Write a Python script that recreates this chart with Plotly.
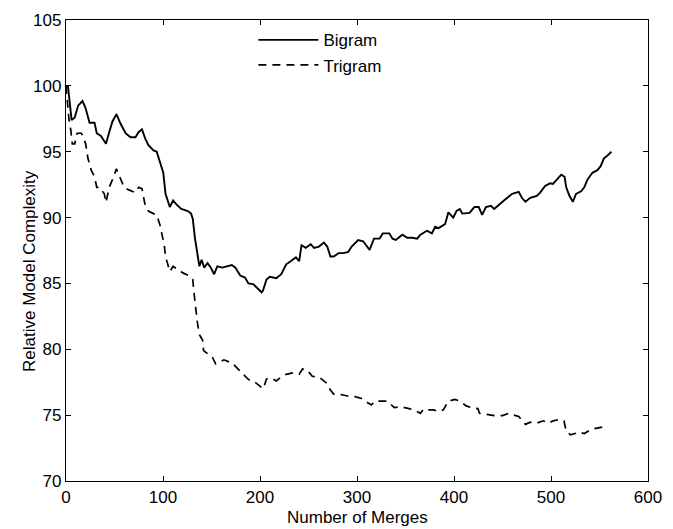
import plotly.graph_objects as go

bigram_x = [0,2,5.8,9,12.5,17,20,24.3,29.4,31.7,36,41.2,44.6,47.9,52,56.4,61.5,66.6,71.6,75,
            78.3,81.7,85,90.2,93.5,97,100.3,102.6,107,110.4,113.8,118.8,125.6,129,130.7,133,135,137.5,139.8,142.5,
            145.9,149.3,152.7,156,161,166,171,174.6,179.6,184.6,188,193,196.5,201.6,203,206.7,210,216.8,221.9,227,
            232,237,240.4,242.8,247.2,252.3,255.7,260.8,265.9,269.3,272.6,276,281,286,291,294.5,301.2,306.3,313,317.5,
            323.2,326.6,333.3,336.6,340,346.8,351.9,357,362,365.4,372.2,377.2,380.6,384,390.8,394.2,399.2,402.6,406,408.6,
            416,421,425.5,429,432.9,438,441.4,446.4,451.5,456.6,460,466.7,470,473.6,478.6,485.4,488.8,493.9,499,502,
            507.3,510.6,514,515.7,519,522.5,525.8,531,534.3,537.7,542.7,547.8,551.2,554.6,558,562.3]
bigram_y = [100,100,97.4,97.6,98.5,98.85,98.35,97.2,97.2,96.4,96.2,95.6,96.5,97.3,97.85,97.1,96.4,96.1,96.1,96.5,
            96.7,96.0,95.5,95.1,95.0,94.25,93.4,91.8,90.8,91.3,91.0,90.65,90.5,90.3,89.9,88.4,87.4,86.3,86.8,86.2,
            86.55,86.2,85.7,86.3,86.2,86.3,86.4,86.2,85.6,85.45,85.0,84.95,84.7,84.33,84.45,85.3,85.5,85.4,85.7,86.45,
            86.7,86.98,86.7,87.9,87.7,87.98,87.7,87.8,88.1,87.8,87.05,87.05,87.3,87.3,87.4,87.8,88.3,88.2,87.55,88.4,
            88.4,88.8,88.8,88.4,88.3,88.7,88.47,88.47,88.4,88.7,89.0,88.8,89.3,89.2,89.5,90.4,90.0,90.5,90.65,90.3,
            90.35,90.8,90.8,90.2,90.8,90.9,90.65,91.0,91.3,91.6,91.8,91.95,91.5,91.2,91.5,91.65,91.9,92.4,92.6,92.55,
            93.0,93.26,93.1,92.3,91.65,91.2,91.8,92.0,92.3,92.9,93.4,93.6,93.9,94.5,94.7,95.0]

trigram_x = [0,3,5,6.5,9,11.5,15.9,20.3,22.6,26,29.4,31.7,34.4,39.5,41.2,44.6,48,52,55.4,59.8,
             64.8,71.6,75,78.3,81.7,85,90.2,93.5,97,99.3,101.3,102.6,107,110.4,115.5,120.6,127.4,130.7,131.7,133,
             135.5,137.5,140.8,141.8,145.9,150.9,154.3,162.8,171.3,178,181.4,188.2,193.2,198.3,203.4,206.7,211.8,216.8,221.9,227,
             233.6,240.4,243.8,248.9,253.9,260.7,265.8,269.2,272.6,276,284.5,292.9,298,304.7,309.8,314.8,318.2,323.2,331.6,338.4,
             345.2,353.6,358.7,365.4,368.8,373.9,379,384,389,394.1,400.9,406,412.7,417.8,424.6,426.3,433,441.5,450,456.6,
             461.7,466.7,473.6,478.6,485.4,492.2,497.3,502.3,507.3,513.4,514.7,515.7,520,524.2,529.3,534.4,541,546.1,551.2,558]
trigram_y = [100,97.5,96.6,95.6,95.6,96.4,96.4,95.6,94.5,93.6,93.1,92.3,92.3,91.8,91.15,92.3,92.9,93.7,93.1,92.3,
             92.1,91.9,92.3,92.2,90.9,90.5,90.3,90.2,89.4,88.7,87.9,87.05,85.9,86.3,86.05,85.8,85.57,85.3,84.45,83.45,
             82,81.1,80.7,79.9,79.7,79.4,78.9,79.2,78.95,78.4,78.2,77.7,77.6,77.3,77.0,77.75,77.8,77.6,77.9,78.1,
             78.2,78.1,78.5,78.4,77.95,77.9,77.6,77.4,76.9,76.6,76.55,76.4,76.4,76.26,76.0,75.77,76.06,76.08,76.06,75.57,
             75.64,75.5,75.4,75.14,75.47,75.4,75.4,75.27,75.4,76.06,76.2,76.06,75.7,75.57,75.5,75.14,75.07,74.97,74.97,75.14,
             75.0,74.9,74.3,74.47,74.4,74.57,74.4,74.57,74.65,74.57,74.1,73.8,73.5,73.6,73.7,73.6,73.9,74.0,74.08,74.15]

x_ticks = [0, 100, 200, 300, 400, 500, 600]
y_ticks = [70, 75, 80, 85, 90, 95, 100, 105]
x_title = "Number of Merges"
y_title = "Relative Model Complexity"

FONT = "Liberation Sans, Arial, sans-serif"
FS = 17

fig = go.Figure()
fig.add_trace(go.Scatter(x=bigram_x, y=bigram_y, mode="lines", name="Bigram",
                         line=dict(color="black", width=1.9)))
fig.add_trace(go.Scatter(x=trigram_x, y=trigram_y, mode="lines", name="Trigram",
                         line=dict(color="black", width=1.7, dash="8px,6px")))

axis_common = dict(showline=True, linecolor="black", linewidth=1.3, mirror="ticks",
                   ticks="inside", ticklen=5, tickcolor="black", tickwidth=1,
                   showgrid=False, zeroline=False,
                   tickfont=dict(family=FONT, size=FS, color="black"))

fig.update_xaxes(range=[0, 600], tickvals=x_ticks, ticktext=[str(v) for v in x_ticks], **axis_common)
fig.update_yaxes(range=[70, 105], tickvals=y_ticks, ticktext=[str(v) for v in y_ticks], **axis_common)

fig.add_annotation(text=x_title, xref="paper", yref="paper", x=0.5, y=-0.0787,
                   xanchor="center", yanchor="middle", showarrow=False,
                   font=dict(family=FONT, size=FS, color="black"))
fig.add_annotation(text=y_title, xref="paper", yref="paper", x=-0.064, y=0.455,
                   xanchor="center", yanchor="middle", showarrow=False, textangle=-90,
                   font=dict(family=FONT, size=FS, color="black"))

fig.update_layout(
    width=673, height=529,
    margin=dict(l=66, r=15, t=11, b=48),
    paper_bgcolor="white", plot_bgcolor="white",
    showlegend=True,
    legend=dict(x=0.322, y=0.995, xanchor="left", yanchor="top",
                bgcolor="rgba(0,0,0,0)", borderwidth=0,
                font=dict(family=FONT, size=FS, color="black"),
                itemwidth=60, tracegroupgap=0),
)

fig.write_html("out.html")
